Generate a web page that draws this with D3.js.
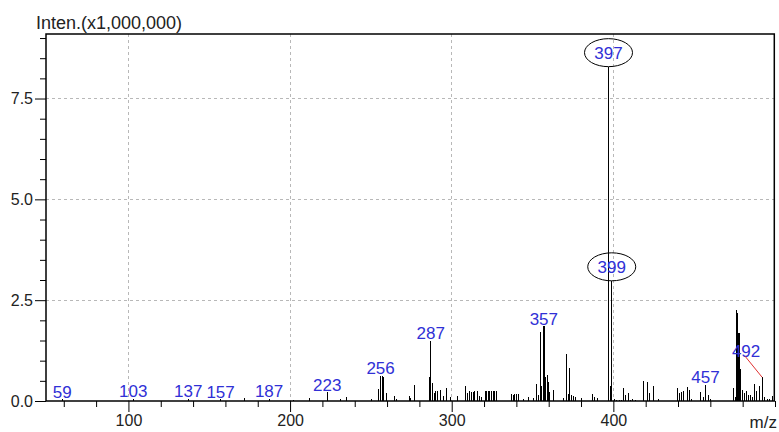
<!DOCTYPE html>
<html>
<head>
<meta charset="utf-8">
<script src="https://cdn.jsdelivr.net/npm/d3@7"></script>
<style>
  html, body { margin: 0; padding: 0; background: #fff; }
  svg { display: block; font-family: "Liberation Sans", Arial, sans-serif; }
</style>
</head>
<body>
<svg id="chart" width="779" height="432"></svg>
<script>
// Mass spectrum: m/z of each centroid peak and its intensity (x1,000,000)
const peakMz = [
  59, 103, 137, 157, 172, 187, 202, 212.3, 223, 231.5, 235, 250.5,
  254.4, 256, 257, 258, 259.7, 264.9, 265.9, 273.7, 274.6, 276.8,
  286, 287, 288.4, 289.2, 290.2, 291.3, 293.1, 295.2, 296.8, 299.3,
  303.4, 308.8, 309.8, 311.3, 312.3, 313.3, 314.3, 315.8, 317.4, 318.5,
  320.7, 321.6, 322.6, 323.6, 324.7, 325.7, 326.7, 327.5,
  337, 338, 339.1, 340.1, 341.1, 344.6, 347.3, 350.4,
  352.5, 353.9, 355, 355.8, 357, 357.8, 359.1, 359.9, 360.7, 363.2,
  368.9, 371, 372, 373.1, 374.1, 375.6, 376.8, 380.5,
  386.9, 388.5, 390.2, 397, 398, 399, 400.5, 402, 403.5, 405,
  406.1, 407.5, 409.2, 410.5, 411.9, 413.5,
  418.9, 420.9, 422.1, 425, 427.7,
  439.4, 440.7, 442.2, 443.2, 445.9, 446.9, 448.4,
  453.9, 455.5, 457, 458.6, 460.1,
  474.1, 475.6, 476.2, 476.8, 477.8, 478.7, 479.9, 480.9, 482.4, 483.4,
  484.8, 486.1, 487.5, 488.6, 490.2, 492, 493.7, 495.1, 496.8, 498.4
];
const peakIntensity = [
  0.04, 0.06, 0.05, 0.04, 0.08, 0.05, 0.03, 0.07, 0.22, 0.05, 0.10, 0.05,
  0.29, 0.62, 0.61, 0.60, 0.19, 0.13, 0.05, 0.12, 0.07, 0.40,
  0.59, 1.49, 0.44, 0.19, 0.25, 0.25, 0.27, 0.12, 0.31, 0.09,
  0.12, 0.36, 0.19, 0.25, 0.22, 0.22, 0.25, 0.25, 0.12, 0.09,
  0.25, 0.25, 0.25, 0.25, 0.25, 0.25, 0.25, 0.25,
  0.17, 0.15, 0.17, 0.17, 0.17, 0.05, 0.10, 0.07,
  0.42, 0.15, 1.70, 0.37, 1.85, 0.60, 0.65, 0.48, 0.22, 0.27,
  0.08, 1.17, 0.17, 0.81, 0.15, 0.12, 0.09, 0.08,
  0.17, 0.09, 0.08, 8.29, 0.37, 2.98, 0.04, 0.03, 0.03, 0.03,
  0.32, 0.15, 0.19, 0.03, 0.05, 0.03,
  0.50, 0.47, 0.19, 0.38, 0.05,
  0.32, 0.19, 0.22, 0.25, 0.34, 0.27, 0.05,
  0.22, 0.10, 0.40, 0.15, 0.05,
  0.32, 0.10, 2.25, 2.18, 1.68, 0.79, 0.27, 0.19, 0.25, 0.15,
  0.15, 0.10, 0.41, 0.25, 0.37, 0.59, 0.09, 0.06, 0.05, 0.12
];

// Annotated peaks
const labeledMz = [59, 103, 137, 157, 187, 223, 256, 287, 357, 457, 492];
const circledMz = [397, 399];
const leaderMz = [492];

// Axis ticks
const xMajorTicks = [100, 200, 300, 400];
const xMinorTicks = [60, 80, 120, 140, 160, 180, 220, 240, 260, 280, 320, 340,
                     360, 380, 420, 440, 460, 480, 500];
const yMajorTicks = [0.0, 2.5, 5.0, 7.5];
const yMinorTicks = [0.5, 1.0, 1.5, 2.0, 3.0, 3.5, 4.0, 4.5, 5.5, 6.0, 6.5, 7.0,
                     8.0, 8.5, 9.0];

const yTitle = "Inten.(x1,000,000)";
const xTitle = "m/z";

// ---- layout & style ----
const W = 779, H = 432;
const plot = { left: 46, right: 775, top: 34, bottom: 401 };
const labelBlue = "#3030d6";
const textColor = "#222";
const gridColor = "#b8b8b8";
const leaderOffset = { dx: -17, dy: -21 };

const svg = d3.select("#chart");

const x = d3.scaleLinear().domain([49, 500]).range([plot.left, plot.right]);
const y = d3.scaleLinear().domain([0, 9.1]).range([plot.bottom, plot.top]);

// grid
const grid = svg.append("g")
  .attr("stroke", gridColor)
  .attr("stroke-width", 1)
  .attr("stroke-dasharray", "3,3")
  .attr("shape-rendering", "crispEdges");
grid.selectAll("line.vx").data(xMajorTicks).join("line")
  .attr("x1", d => x(d)).attr("x2", d => x(d))
  .attr("y1", plot.top).attr("y2", plot.bottom);
grid.selectAll("line.hy").data(yMajorTicks.filter(d => d > 0)).join("line")
  .attr("class", "hy")
  .attr("x1", plot.left).attr("x2", plot.right)
  .attr("y1", d => y(d)).attr("y2", d => y(d));

// peaks
const peaks = peakMz.map((m, i) => ({ mz: m, v: peakIntensity[i] }));
svg.append("g")
  .attr("stroke", "#000")
  .attr("shape-rendering", "crispEdges")
  .selectAll("line").data(peaks).join("line")
  .attr("stroke-width", d => d.v > 1 ? 1.4 : 1)
  .attr("x1", d => x(d.mz)).attr("x2", d => x(d.mz))
  .attr("y1", y(0)).attr("y2", d => y(d.v));

// axes
function styleAxis(g) {
  g.selectAll("text")
    .attr("fill", textColor)
    .style("font-size", "16px")
    .style("font-family", "'Liberation Sans', Arial, sans-serif");
  g.selectAll("line").attr("stroke", "#000");
  g.select(".domain").remove();
}

svg.append("g")
  .attr("transform", `translate(0,${plot.bottom})`)
  .call(d3.axisBottom(x).tickValues(xMinorTicks).tickSize(6).tickFormat(""))
  .call(styleAxis);
svg.append("g")
  .attr("transform", `translate(0,${plot.bottom})`)
  .call(d3.axisBottom(x).tickValues(xMajorTicks).tickSize(11).tickPadding(3)
        .tickFormat(d3.format("d")))
  .call(styleAxis);

svg.append("g")
  .attr("transform", `translate(${plot.left},0)`)
  .call(d3.axisLeft(y).tickValues(yMinorTicks).tickSize(6).tickFormat(""))
  .call(styleAxis);
svg.append("g")
  .attr("transform", `translate(${plot.left},0)`)
  .call(d3.axisLeft(y).tickValues(yMajorTicks).tickSize(11).tickPadding(2)
        .tickFormat(d3.format(".1f")))
  .call(styleAxis);

// frame
svg.append("path")
  .attr("d", `M${plot.left},${plot.bottom}V${plot.top}H${plot.right - 0.7}V${plot.bottom}`)
  .attr("fill", "none").attr("stroke", "#000").attr("stroke-width", 1.5);
svg.append("line")
  .attr("x1", plot.left).attr("x2", plot.right)
  .attr("y1", plot.bottom).attr("y2", plot.bottom)
  .attr("stroke", "#000").attr("stroke-width", 1.5);

// titles
svg.append("text")
  .attr("x", 36).attr("y", 29)
  .attr("fill", textColor)
  .style("font-size", "18px")
  .text(yTitle);
svg.append("text")
  .attr("x", 777).attr("y", 428)
  .attr("text-anchor", "end")
  .attr("fill", textColor)
  .style("font-size", "17px")
  .text(xTitle);

// peak labels
const intensityOf = m => peakIntensity[peakMz.indexOf(m)];
const lab = svg.append("g")
  .attr("fill", labelBlue)
  .attr("text-anchor", "middle")
  .style("font-size", "17px");

labeledMz.forEach(m => {
  const px = x(m), py = y(intensityOf(m));
  if (leaderMz.includes(m)) {
    svg.append("line")
      .attr("x1", px).attr("y1", py)
      .attr("x2", px + leaderOffset.dx).attr("y2", py + leaderOffset.dy)
      .attr("stroke", "#e03030").attr("stroke-width", 1);
    lab.append("text")
      .attr("x", px + leaderOffset.dx + 1).attr("y", py + leaderOffset.dy + 1)
      .text(m);
  } else {
    lab.append("text").attr("x", px).attr("y", py - 1.5).text(m);
  }
});

// circled labels for the main peaks
circledMz.forEach(m => {
  const px = x(m), py = y(intensityOf(m));
  const rx = 24, ry = 14;
  svg.append("ellipse")
    .attr("cx", px).attr("cy", py - ry)
    .attr("rx", rx).attr("ry", ry)
    .attr("fill", "none").attr("stroke", "#000").attr("stroke-width", 1);
  lab.append("text").attr("x", px).attr("y", py - ry + 6).text(m);
});
</script>
</body>
</html>
